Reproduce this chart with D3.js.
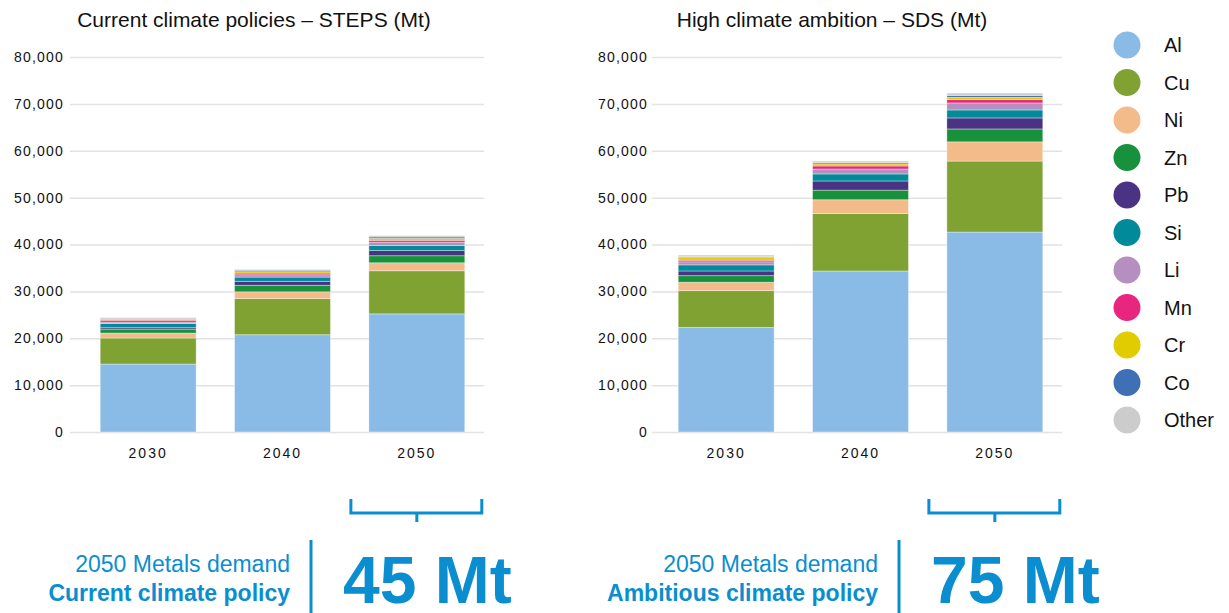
<!DOCTYPE html>
<html>
<head>
<meta charset="utf-8">
<script src="https://cdn.jsdelivr.net/npm/d3@7"></script>
<style>
  html, body { margin: 0; padding: 0; background: #fff; }
  svg { display: block; font-family: "Liberation Sans", Arial, sans-serif; }
</style>
</head>
<body>
<svg id="chart" width="1229" height="613"></svg>
<script>
// Metal demand (Mt) by year, stacked bottom to top in the order of `metals`
const years = ["2030", "2040", "2050"];
const metals = ["Al", "Cu", "Ni", "Zn", "Pb", "Si", "Li", "Mn", "Cr", "Co", "Other"];
const metalColors = ["#8abbe6", "#80a232", "#f3bb8a", "#18913c", "#4b3384", "#008a9a",
                     "#b48fc0", "#e8267f", "#e0cc00", "#3f6fb5", "#cccccc"];

const steps2030 = [14500, 5550, 1050, 850, 300, 900, 300, 400, 150, 100, 300];
const steps2040 = [20750, 7700, 1450, 1400, 850, 900, 500, 350, 300, 300, 200];
const steps2050 = [25200, 9200, 1700, 1500, 1100, 1100, 700, 400, 400, 300, 300];

const sds2030 = [22300, 7850, 1800, 1400, 1000, 1300, 650, 350, 600, 150, 350];
const sds2040 = [34350, 12250, 2950, 2050, 1950, 1500, 1050, 650, 450, 250, 350];
const sds2050 = [42650, 15150, 4100, 2750, 2350, 1700, 1500, 700, 500, 400, 500];

const yTicks = [0, 10000, 20000, 30000, 40000, 50000, 60000, 70000, 80000];
const panelTitles = ["Current climate policies – STEPS (Mt)", "High climate ambition – SDS (Mt)"];
const headlineTotals = [45, 75];
const headlineLines = [["2050 Metals demand", "Current climate policy"],
                       ["2050 Metals demand", "Ambitious climate policy"]];

const blue = "#0a8ecf";
const svg = d3.select("#chart");

function toRows(series) {
  return years.map((yr, i) => {
    const row = { year: yr };
    metals.forEach((m, j) => { row[m] = series[i][j]; });
    return row;
  });
}

const panels = [
  { rows: toRows([steps2030, steps2040, steps2050]), left: 81, right: 484, gridLeft: 70, labelRight: 64, titleX: 254, divX: 311 },
  { rows: toRows([sds2030, sds2040, sds2050]), left: 659, right: 1062, gridLeft: 652, labelRight: 648, titleX: 832, divX: 899 }
];

const y = d3.scaleLinear().domain([0, 80000]).range([432, 57]);
const color = d3.scaleOrdinal().domain(metals).range(metalColors);
const stack = d3.stack().keys(metals);

panels.forEach((p, pi) => {
  const g = svg.append("g");
  const x = d3.scaleBand().domain(years).range([p.left, p.right]).paddingInner(0.286).paddingOuter(0.143);

  // gridlines + y labels
  const yAxis = d3.axisLeft(y).tickValues(yTicks).tickSize(-(p.right - p.gridLeft))
    .tickFormat(d3.format(",")).tickPadding(0);
  const ya = g.append("g").attr("transform", `translate(${p.gridLeft},0)`).call(yAxis);
  ya.select(".domain").remove();
  ya.selectAll(".tick line").attr("stroke", "#e2e2e2").attr("stroke-width", 1.5);
  ya.selectAll(".tick text")
    .attr("x", -(p.gridLeft - p.labelRight))
    .attr("font-size", 14).attr("letter-spacing", "1.2px")
    .attr("fill", "#111").attr("font-family", "Liberation Sans, Arial, sans-serif");

  // stacked bars
  const series = stack(p.rows);
  g.append("g").selectAll("g").data(series).join("g")
    .attr("fill", d => color(d.key))
    .selectAll("rect").data(d => d).join("rect")
    .attr("x", d => x(d.data.year))
    .attr("width", x.bandwidth())
    .attr("y", d => y(d[1]))
    .attr("height", d => y(d[0]) - y(d[1]))
    .attr("stroke", "rgba(255,255,255,0.45)").attr("stroke-width", 0.8);

  // x labels
  const xAxis = d3.axisBottom(x).tickSize(0).tickPadding(0);
  const xa = g.append("g").attr("transform", `translate(0,${y(0)})`).call(xAxis);
  xa.select(".domain").remove();
  xa.selectAll(".tick text").attr("dy", 26).attr("font-size", 14).attr("letter-spacing", "2px")
    .attr("fill", "#111").attr("font-family", "Liberation Sans, Arial, sans-serif");

  // title
  g.append("text").attr("x", p.titleX).attr("y", 27).attr("text-anchor", "middle")
    .attr("font-size", 21).attr("fill", "#111").text(panelTitles[pi]);

  // bracket over the 2050 bar
  const bx0 = x("2050") - 18, bx1 = x("2050") + x.bandwidth() + 17;
  const bc = x("2050") + x.bandwidth() / 2;
  g.append("path")
    .attr("d", `M${bx0},499 V513 H${bx1} V499 M${bc},513 V522`)
    .attr("fill", "none").attr("stroke", blue).attr("stroke-width", 3);

  // headline block
  g.append("line").attr("x1", p.divX).attr("x2", p.divX).attr("y1", 540).attr("y2", 613)
    .attr("stroke", blue).attr("stroke-width", 3);
  g.append("text").attr("x", p.divX - 21).attr("y", 572).attr("text-anchor", "end")
    .attr("font-size", 23).attr("fill", blue).text(headlineLines[pi][0]);
  g.append("text").attr("x", p.divX - 21).attr("y", 601).attr("text-anchor", "end")
    .attr("font-size", 23).attr("font-weight", "bold").attr("fill", blue).text(headlineLines[pi][1]);
  g.append("text").attr("x", p.divX + 32).attr("y", 603)
    .attr("font-size", 66).attr("font-weight", "bold").attr("fill", blue)
    .text(`${headlineTotals[pi]} Mt`);
});

// legend
const legend = svg.append("g").selectAll("g").data(metals).join("g")
  .attr("transform", (d, i) => `translate(1127,${45 + i * 37.5})`);
legend.append("circle").attr("r", 13.5).attr("fill", d => color(d));
legend.append("text").attr("x", 37).attr("dy", "0.36em").attr("font-size", 20)
  .attr("fill", "#111").text(d => d);
</script>
</body>
</html>
